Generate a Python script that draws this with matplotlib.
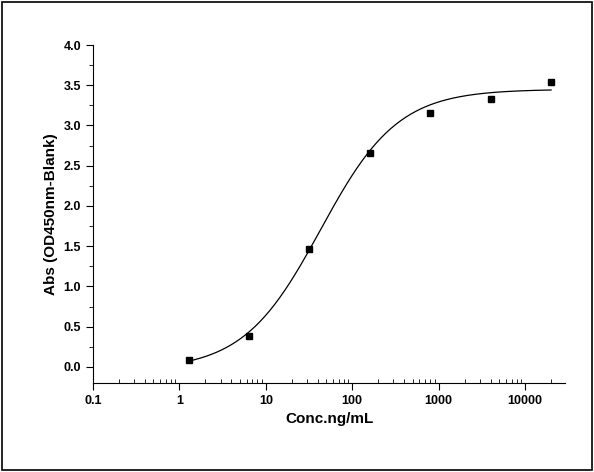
import numpy as np
import matplotlib
matplotlib.use("Agg")
import matplotlib.pyplot as plt
from matplotlib.ticker import LogLocator, FixedLocator, FuncFormatter
from matplotlib.patches import Rectangle

conc = [1.28, 6.4, 32, 160, 800, 4000, 20000]
absv = [0.08, 0.38, 1.46, 2.66, 3.15, 3.33, 3.54]
# 4PL fit parameters (bottom, top, EC50, slope)
fit_a, fit_d, fit_c, fit_b = -0.04, 3.45, 43.0, 0.97

plt.rcParams['font.family'] = ['Liberation Sans', 'DejaVu Sans']
plt.rcParams['font.weight'] = 'bold'
fig = plt.figure(figsize=(5.94, 4.72), dpi=100)
fig.patches.append(Rectangle((0.004, 0.004), 0.992, 0.992, transform=fig.transFigure,
                             fill=False, lw=1.2, ec='black'))
ax = fig.add_axes([93/594, 1-383/472, (565-93)/594, (383-45)/472])
xs = np.logspace(np.log10(conc[0]), np.log10(conc[-1]), 300)
ys = fit_a + (fit_d - fit_a) / (1 + (fit_c / xs) ** fit_b)
ax.plot(xs, ys, color='black', lw=0.9)
ax.plot(conc, absv, 's', color='black', ms=5)
ax.set_xscale('log')
ax.set_xlim(0.1, 29000)
ax.set_ylim(-0.2, 4.0)
ax.spines['top'].set_visible(False)
ax.spines['right'].set_visible(False)
ax.set_xticks([0.1, 1, 10, 100, 1000, 10000])
ax.xaxis.set_major_formatter(FuncFormatter(lambda v, p: f"{v:g}"))
ax.xaxis.set_minor_locator(LogLocator(base=10, subs=np.arange(2, 10)))
ax.set_yticks(np.arange(0, 4.01, 0.5))
ax.yaxis.set_major_formatter(FuncFormatter(lambda v, p: f"{v:.1f}"))
ax.yaxis.set_minor_locator(FixedLocator(np.arange(-0.25, 4.0, 0.5)))
ax.tick_params(which='major', direction='out', length=5, labelsize=9)
ax.tick_params(which='minor', direction='out', length=3)
ax.tick_params(axis='x', which='minor', direction='in')
ax.set_xlabel('Conc.ng/mL', fontsize=11, fontweight='bold')
ax.set_ylabel('Abs (OD450nm-Blank)', fontsize=11, fontweight='bold')
fig.savefig('out.png', dpi=100)
